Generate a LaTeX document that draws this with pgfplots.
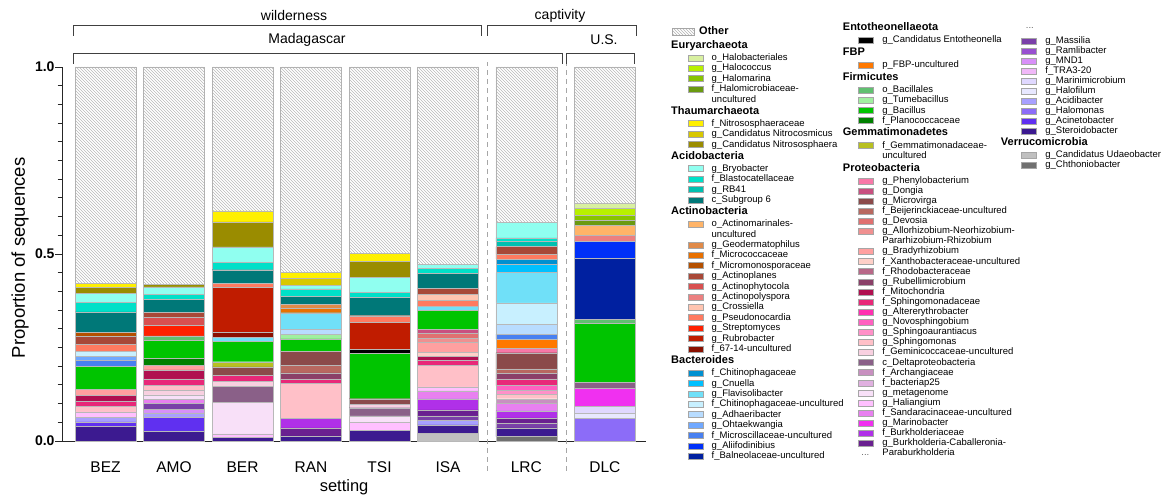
\documentclass[border=0pt]{standalone}
\usepackage{pgfplots}
\pgfplotsset{compat=1.18}
\usepackage{fontspec}
\setmainfont{Liberation Sans}
\usetikzlibrary{patterns}

% ---- taxon colours ----
\definecolor{kHalobact}{HTML}{D8F0A0}
\definecolor{kHalococ}{HTML}{B8F000}
\definecolor{kHalomar}{HTML}{88C400}
\definecolor{kHalomic}{HTML}{6A9A10}
\definecolor{kNitrosp}{HTML}{FFF000}
\definecolor{kNitroco}{HTML}{D8C800}
\definecolor{kNitrosa}{HTML}{9A8C00}
\definecolor{kBryo}{HTML}{90FFF0}
\definecolor{kBlasto}{HTML}{00E0C8}
\definecolor{kRB}{HTML}{00C0B0}
\definecolor{kSub}{HTML}{007878}
\definecolor{kActmar}{HTML}{FFB468}
\definecolor{kGeoder}{HTML}{E08A48}
\definecolor{kMicroc}{HTML}{E87000}
\definecolor{kMicrom}{HTML}{B45000}
\definecolor{kActpla}{HTML}{A84838}
\definecolor{kActphy}{HTML}{D85050}
\definecolor{kActpol}{HTML}{EC8080}
\definecolor{kCross}{HTML}{FFC4B0}
\definecolor{kPseudo}{HTML}{FF7A60}
\definecolor{kStrep}{HTML}{FF2000}
\definecolor{kRubro}{HTML}{C01C00}
\definecolor{kSixty}{HTML}{8A1000}
\definecolor{kChitin}{HTML}{0090D0}
\definecolor{kCnu}{HTML}{00C0FF}
\definecolor{kFlavi}{HTML}{70E0F8}
\definecolor{kChitu}{HTML}{C8F0FF}
\definecolor{kAdhae}{HTML}{B8DCFF}
\definecolor{kOhtae}{HTML}{70A8FF}
\definecolor{kMicros}{HTML}{4880F0}
\definecolor{kAlii}{HTML}{0030F8}
\definecolor{kBalne}{HTML}{0020A0}
\definecolor{kEnto}{HTML}{000000}
\definecolor{kFBP}{HTML}{FF7800}
\definecolor{kBacl}{HTML}{60C070}
\definecolor{kTume}{HTML}{A0F0A0}
\definecolor{kBacil}{HTML}{00C400}
\definecolor{kPlano}{HTML}{008000}
\definecolor{kGemma}{HTML}{B8C020}
\definecolor{kPhenyl}{HTML}{F878A8}
\definecolor{kDongia}{HTML}{C85080}
\definecolor{kMicrov}{HTML}{8B4A4A}
\definecolor{kBeij}{HTML}{B86860}
\definecolor{kDevosia}{HTML}{E07070}
\definecolor{kAllorh}{HTML}{F09090}
\definecolor{kBrady}{HTML}{FFA0A0}
\definecolor{kXantho}{HTML}{FFD0C8}
\definecolor{kRhodo}{HTML}{B86888}
\definecolor{kRubell}{HTML}{8A4068}
\definecolor{kMito}{HTML}{B01050}
\definecolor{kSphnd}{HTML}{E82878}
\definecolor{kAlter}{HTML}{FF30B0}
\definecolor{kNovos}{HTML}{FF60C0}
\definecolor{kSphau}{HTML}{FF90C8}
\definecolor{kSphms}{HTML}{FFC0C8}
\definecolor{kGemini}{HTML}{F8D0E0}
\definecolor{kDelta}{HTML}{8A6088}
\definecolor{kArchan}{HTML}{C890C0}
\definecolor{kBactp}{HTML}{E0B0E0}
\definecolor{kMetag}{HTML}{F8E0F8}
\definecolor{kHaliang}{HTML}{FFC0FF}
\definecolor{kSandar}{HTML}{E880F0}
\definecolor{kMarinob}{HTML}{F030F0}
\definecolor{kBurkh}{HTML}{B030E8}
\definecolor{kBurkCab}{HTML}{6A2090}
\definecolor{kMassil}{HTML}{7A40A8}
\definecolor{kRamli}{HTML}{9850D0}
\definecolor{kMND}{HTML}{D890F8}
\definecolor{kTRA}{HTML}{F0B8F8}
\definecolor{kMarinim}{HTML}{E0D8FF}
\definecolor{kHalofil}{HTML}{E8E8FF}
\definecolor{kAcidib}{HTML}{A8A0FF}
\definecolor{kHalomon}{HTML}{8C6CF8}
\definecolor{kAcinet}{HTML}{6030F0}
\definecolor{kStero}{HTML}{3C1A90}
\definecolor{kUdaeo}{HTML}{C0C0C0}
\definecolor{kChthon}{HTML}{707070}

% ---- legend helpers ----
\def\legT{7.8pt}\def\legD{2.6pt}\def\legTh{9.9pt}\def\legDh{3.9pt}
\newcommand\ent[1]{\rule[-\legD]{0pt}{\dimexpr\legT+\legD\relax}#1}
\newcommand\hdr[2]{\rule[-\legDh]{0pt}{\dimexpr\legTh+\legDh\relax}\rlap{\hspace*{-#1}\fontsize{11}{12}\selectfont\bfseries #2}}
\newcommand\sw[2]{\addlegendimage{fill=#1}\addlegendentry{\ent{#2}}}
\newcommand\hd[2]{\addlegendimage{empty legend}\addlegendentry{\hdr{#1}{#2}}}
\newcommand\ct[1]{\addlegendimage{empty legend}\addlegendentry{\ent{#1}}}

\pgfplotsset{
  seg/.style={fill=#1, draw=black!28, line width=0.4pt},
  legbox/.style={
    hide axis, scale only axis, width=10pt, height=10pt,
    xmin=0, xmax=1, ymin=0, ymax=1, anchor=north west,
    legend cell align=left,
    legend style={draw=none, fill=none, inner sep=0pt, outer sep=0pt,
      at={(0,1)}, anchor=north west, row sep=0pt, column sep=#1,
      font=\fontsize{9.5}{10}\selectfont, nodes={inner sep=0pt, text depth=}},
    legend image code/.code={\draw[##1, draw=black!35, line width=0.4pt] (0pt,-3pt) rectangle (15pt,3pt);},
  },
}

\begin{document}
\begin{tikzpicture}[x=1pt,y=1pt]
\useasboundingbox (0,0) rectangle (1166,495);

\begin{axis}[
  at={(62pt,54pt)}, anchor=south west,
  scale only axis, width=584pt, height=374pt,
  xmin=-0.635, xmax=7.89, ymin=0, ymax=1,
  ybar stacked, bar width=0.89,
  axis lines*=left,
  axis line style={black!85, line width=0.9pt},
  clip=false,
  xtick={0,1,2,3,4,5,6.143,7.289},
  xticklabels={BEZ,AMO,BER,RAN,TSI,ISA,LRC,DLC},
  major x tick style={draw=none},
  xticklabel style={font=\fontsize{15.5}{16}\selectfont, yshift=-10pt},
  ytick={0,0.5,1}, yticklabels={0.0,0.5,1.0},
  minor ytick={0.05,0.1,0.15,0.2,0.25,0.3,0.35,0.4,0.45,0.55,0.6,0.65,0.7,0.75,0.8,0.85,0.9,0.95},
  tick align=outside,
  major tick length=7pt, minor tick length=4.5pt,
  y tick style={black!85, line width=0.9pt},
  yticklabel style={font=\fontsize{14}{14}\selectfont\bfseries, xshift=3pt},
  xlabel={setting}, ylabel={Proportion of sequences},
  every axis x label/.style={at={(axis description cs:0.483,-0.123)}, anchor=center, font=\fontsize{16.5}{17}\selectfont},
  every axis y label/.style={at={(axis description cs:-0.0719,0.49)}, anchor=center, rotate=90, font=\fontsize{18.5}{19}\selectfont},
]
% stacked from the bottom: BEZ, AMO, BER, RAN, TSI, ISA, LRC, DLC
\addplot[seg=kChthon]  coordinates {(0,0)(1,0)(2,0)(3,0)(4,0)(5,0)(6.143,0.012)(7.289,0)};
\addplot[seg=kUdaeo]   coordinates {(0,0)(1,0)(2,0)(3,0)(4,0)(5,0.021)(6.143,0)(7.289,0)};
\addplot[seg=kStero]   coordinates {(0,0.039)(1,0.026)(2,0.009)(3,0.014)(4,0.029)(5,0.022)(6.143,0.023)(7.289,0)};
\addplot[seg=kAcinet]  coordinates {(0,0.012)(1,0.037)(2,0)(3,0)(4,0)(5,0)(6.143,0)(7.289,0)};
\addplot[seg=kHalomon] coordinates {(0,0)(1,0)(2,0)(3,0)(4,0)(5,0)(6.143,0)(7.289,0.062)};
\addplot[seg=kAcidib]  coordinates {(0,0.013)(1,0.012)(2,0)(3,0)(4,0)(5,0.013)(6.143,0)(7.289,0)};
\addplot[seg=kHalofil] coordinates {(0,0)(1,0)(2,0)(3,0)(4,0)(5,0)(6.143,0)(7.289,0.012)};
\addplot[seg=kMarinim] coordinates {(0,0)(1,0)(2,0)(3,0)(4,0)(5,0)(6.143,0)(7.289,0.018)};
\addplot[seg=kTRA]     coordinates {(0,0)(1,0)(2,0)(3,0)(4,0)(5,0)(6.143,0)(7.289,0)};
\addplot[seg=kMND]     coordinates {(0,0)(1,0.010)(2,0)(3,0)(4,0)(5,0)(6.143,0)(7.289,0)};
\addplot[seg=kRamli]   coordinates {(0,0)(1,0)(2,0)(3,0)(4,0)(5,0)(6.143,0)(7.289,0)};
\addplot[seg=kMassil]  coordinates {(0,0)(1,0.015)(2,0)(3,0)(4,0)(5,0.011)(6.143,0.013)(7.289,0)};
\addplot[seg=kBurkCab] coordinates {(0,0)(1,0)(2,0)(3,0.021)(4,0)(5,0.016)(6.143,0.014)(7.289,0)};
\addplot[seg=kBurkh]   coordinates {(0,0)(1,0)(2,0)(3,0.025)(4,0)(5,0.030)(6.143,0.019)(7.289,0)};
\addplot[seg=kMarinob] coordinates {(0,0)(1,0)(2,0)(3,0)(4,0)(5,0)(6.143,0)(7.289,0.049)};
\addplot[seg=kSandar]  coordinates {(0,0)(1,0.011)(2,0)(3,0)(4,0)(5,0.021)(6.143,0.020)(7.289,0)};
\addplot[seg=kHaliang] coordinates {(0,0.014)(1,0)(2,0.010)(3,0)(4,0.020)(5,0.011)(6.143,0)(7.289,0)};
\addplot[seg=kMetag]   coordinates {(0,0)(1,0.012)(2,0.085)(3,0)(4,0.018)(5,0)(6.143,0)(7.289,0)};
\addplot[seg=kBactp]   coordinates {(0,0)(1,0)(2,0)(3,0)(4,0)(5,0)(6.143,0)(7.289,0)};
\addplot[seg=kArchan]  coordinates {(0,0)(1,0)(2,0)(3,0)(4,0)(5,0)(6.143,0.012)(7.289,0)};
\addplot[seg=kDelta]   coordinates {(0,0)(1,0)(2,0.043)(3,0)(4,0.022)(5,0)(6.143,0)(7.289,0.015)};
\addplot[seg=kGemini]  coordinates {(0,0)(1,0.012)(2,0.013)(3,0)(4,0.009)(5,0)(6.143,0)(7.289,0)};
\addplot[seg=kSphms]   coordinates {(0,0.015)(1,0.013)(2,0)(3,0.094)(4,0)(5,0.058)(6.143,0.012)(7.289,0)};
\addplot[seg=kSphau]   coordinates {(0,0)(1,0)(2,0)(3,0)(4,0)(5,0)(6.143,0.011)(7.289,0)};
\addplot[seg=kNovos]   coordinates {(0,0)(1,0)(2,0)(3,0)(4,0)(5,0)(6.143,0.012)(7.289,0)};
\addplot[seg=kAlter]   coordinates {(0,0)(1,0)(2,0)(3,0)(4,0)(5,0)(6.143,0)(7.289,0)};
\addplot[seg=kSphnd]   coordinates {(0,0.013)(1,0.018)(2,0.015)(3,0.012)(4,0)(5,0.012)(6.143,0.018)(7.289,0)};
\addplot[seg=kMito]    coordinates {(0,0.016)(1,0.024)(2,0)(3,0)(4,0)(5,0.012)(6.143,0)(7.289,0)};
\addplot[seg=kRubell]  coordinates {(0,0)(1,0)(2,0)(3,0.016)(4,0)(5,0)(6.143,0.015)(7.289,0)};
\addplot[seg=kRhodo]   coordinates {(0,0)(1,0)(2,0)(3,0)(4,0)(5,0)(6.143,0)(7.289,0)};
\addplot[seg=kXantho]  coordinates {(0,0)(1,0)(2,0)(3,0)(4,0)(5,0.011)(6.143,0)(7.289,0)};
\addplot[seg=kBrady]   coordinates {(0,0.017)(1,0.013)(2,0)(3,0)(4,0)(5,0.025)(6.143,0)(7.289,0)};
\addplot[seg=kAllorh]  coordinates {(0,0)(1,0)(2,0)(3,0)(4,0)(5,0.012)(6.143,0)(7.289,0)};
\addplot[seg=kDevosia] coordinates {(0,0)(1,0)(2,0)(3,0)(4,0)(5,0.013)(6.143,0)(7.289,0)};
\addplot[seg=kBeij]    coordinates {(0,0)(1,0)(2,0)(3,0.020)(4,0)(5,0)(6.143,0.012)(7.289,0)};
\addplot[seg=kMicrov]  coordinates {(0,0)(1,0)(2,0.023)(3,0.038)(4,0.015)(5,0)(6.143,0.043)(7.289,0)};
\addplot[seg=kDongia]  coordinates {(0,0)(1,0)(2,0)(3,0)(4,0)(5,0.011)(6.143,0)(7.289,0)};
\addplot[seg=kPhenyl]  coordinates {(0,0)(1,0)(2,0)(3,0)(4,0)(5,0)(6.143,0.011)(7.289,0)};
\addplot[seg=kGemma]   coordinates {(0,0)(1,0)(2,0.014)(3,0)(4,0)(5,0)(6.143,0)(7.289,0)};
\addplot[seg=kPlano]   coordinates {(0,0)(1,0.018)(2,0)(3,0)(4,0)(5,0)(6.143,0)(7.289,0)};
\addplot[seg=kBacil]   coordinates {(0,0.061)(1,0.049)(2,0.054)(3,0.033)(4,0.121)(5,0.050)(6.143,0)(7.289,0.159)};
\addplot[seg=kTume]    coordinates {(0,0)(1,0)(2,0)(3,0.013)(4,0)(5,0)(6.143,0)(7.289,0)};
\addplot[seg=kBacl]    coordinates {(0,0)(1,0.011)(2,0)(3,0)(4,0)(5,0)(6.143,0)(7.289,0.011)};
\addplot[seg=kFBP]     coordinates {(0,0)(1,0)(2,0)(3,0)(4,0)(5,0)(6.143,0.025)(7.289,0)};
\addplot[seg=kEnto]    coordinates {(0,0)(1,0)(2,0)(3,0)(4,0.012)(5,0)(6.143,0)(7.289,0)};
\addplot[seg=kBalne]   coordinates {(0,0)(1,0)(2,0)(3,0)(4,0)(5,0)(6.143,0)(7.289,0.162)};
\addplot[seg=kAlii]    coordinates {(0,0)(1,0)(2,0)(3,0)(4,0)(5,0)(6.143,0)(7.289,0.045)};
\addplot[seg=kMicros]  coordinates {(0,0.015)(1,0)(2,0)(3,0)(4,0)(5,0)(6.143,0.014)(7.289,0)};
\addplot[seg=kOhtae]   coordinates {(0,0.012)(1,0)(2,0)(3,0)(4,0)(5,0)(6.143,0)(7.289,0)};
\addplot[seg=kAdhae]   coordinates {(0,0)(1,0)(2,0)(3,0.012)(4,0)(5,0)(6.143,0.025)(7.289,0)};
\addplot[seg=kChitu]   coordinates {(0,0.012)(1,0)(2,0)(3,0)(4,0)(5,0)(6.143,0.058)(7.289,0)};
\addplot[seg=kFlavi]   coordinates {(0,0)(1,0)(2,0.011)(3,0.045)(4,0)(5,0.011)(6.143,0.081)(7.289,0)};
\addplot[seg=kCnu]     coordinates {(0,0)(1,0)(2,0)(3,0)(4,0)(5,0)(6.143,0.023)(7.289,0)};
\addplot[seg=kChitin]  coordinates {(0,0)(1,0)(2,0)(3,0)(4,0)(5,0)(6.143,0.014)(7.289,0)};
\addplot[seg=kSixty]   coordinates {(0,0)(1,0)(2,0.015)(3,0)(4,0)(5,0)(6.143,0)(7.289,0)};
\addplot[seg=kRubro]   coordinates {(0,0)(1,0)(2,0.118)(3,0)(4,0.071)(5,0)(6.143,0)(7.289,0)};
\addplot[seg=kStrep]   coordinates {(0,0)(1,0.028)(2,0)(3,0)(4,0)(5,0)(6.143,0)(7.289,0)};
\addplot[seg=kPseudo]  coordinates {(0,0.020)(1,0)(2,0.012)(3,0)(4,0.018)(5,0.016)(6.143,0.012)(7.289,0)};
\addplot[seg=kCross]   coordinates {(0,0)(1,0)(2,0)(3,0)(4,0)(5,0.016)(6.143,0)(7.289,0)};
\addplot[seg=kActpol]  coordinates {(0,0)(1,0)(2,0)(3,0)(4,0)(5,0)(6.143,0)(7.289,0.018)};
\addplot[seg=kActphy]  coordinates {(0,0)(1,0.021)(2,0)(3,0)(4,0)(5,0)(6.143,0)(7.289,0)};
\addplot[seg=kActpla]  coordinates {(0,0.020)(1,0.014)(2,0)(3,0)(4,0)(5,0.016)(6.143,0.021)(7.289,0)};
\addplot[seg=kMicrom]  coordinates {(0,0.013)(1,0)(2,0)(3,0)(4,0)(5,0)(6.143,0)(7.289,0)};
\addplot[seg=kMicroc]  coordinates {(0,0)(1,0)(2,0)(3,0.012)(4,0)(5,0)(6.143,0)(7.289,0)};
\addplot[seg=kGeoder]  coordinates {(0,0)(1,0)(2,0)(3,0.010)(4,0)(5,0)(6.143,0)(7.289,0)};
\addplot[seg=kActmar]  coordinates {(0,0)(1,0)(2,0)(3,0)(4,0)(5,0)(6.143,0)(7.289,0.027)};
\addplot[seg=kSub]     coordinates {(0,0.053)(1,0.035)(2,0.036)(3,0.022)(4,0.049)(5,0.040)(6.143,0)(7.289,0)};
\addplot[seg=kRB]      coordinates {(0,0)(1,0)(2,0)(3,0)(4,0)(5,0)(6.143,0.013)(7.289,0)};
\addplot[seg=kBlasto]  coordinates {(0,0.025)(1,0.013)(2,0.019)(3,0.020)(4,0.013)(5,0.013)(6.143,0.010)(7.289,0)};
\addplot[seg=kBryo]    coordinates {(0,0.025)(1,0.020)(2,0.042)(3,0.009)(4,0.041)(5,0.012)(6.143,0.041)(7.289,0)};
\addplot[seg=kNitrosa] coordinates {(0,0.015)(1,0.007)(2,0.067)(3,0)(4,0.042)(5,0)(6.143,0)(7.289,0)};
\addplot[seg=kNitroco] coordinates {(0,0)(1,0)(2,0)(3,0.018)(4,0)(5,0)(6.143,0)(7.289,0)};
\addplot[seg=kNitrosp] coordinates {(0,0.011)(1,0)(2,0.029)(3,0.016)(4,0.022)(5,0)(6.143,0)(7.289,0)};
\addplot[seg=kHalomic] coordinates {(0,0)(1,0)(2,0)(3,0)(4,0)(5,0)(6.143,0)(7.289,0.012)};
\addplot[seg=kHalomar] coordinates {(0,0)(1,0)(2,0)(3,0)(4,0)(5,0)(6.143,0)(7.289,0.015)};
\addplot[seg=kHalococ] coordinates {(0,0)(1,0)(2,0)(3,0)(4,0)(5,0)(6.143,0)(7.289,0.018)};
\addplot[seg=kHalobact] coordinates {(0,0)(1,0)(2,0)(3,0)(4,0)(5,0)(6.143,0)(7.289,0.012)};
% remainder: Other
\addplot[pattern=north west lines, pattern color=black!28, draw=black!30, line width=0.4pt]
  coordinates {(0,0.579)(1,0.581)(2,0.385)(3,0.550)(4,0.498)(5,0.527)(6.143,0.416)(7.289,0.365)};

% group separators
\draw[black!35, line width=0.9pt, dash pattern=on 5pt off 4pt] (axis cs:5.569,-0.08) -- (axis cs:5.569,1.013);
\draw[black!35, line width=0.9pt, dash pattern=on 5pt off 4pt] (axis cs:6.723,-0.08) -- (axis cs:6.723,1.013);
\end{axis}

% group brackets
\begin{scope}[black!75, line width=0.9pt]
\draw (73.6,459) -- (73.6,470) -- (481,470) -- (481,459);
\draw (487,459) -- (487,470) -- (636,470) -- (636,459);
\draw (73.6,431) -- (73.6,441.4) -- (562,441.4) -- (562,431);
\draw (566,431) -- (566,441.4) -- (634,441.4) -- (634,431);
\end{scope}
\begin{scope}[every node/.style={font=\fontsize{14}{14}\selectfont, inner sep=0pt}]
\node at (294,479) {wilderness};
\node at (560,479) {captivity};
\node at (307,455) {Madagascar};
\node at (604,455) {U.S.};
\end{scope}

% legend, first column
\begin{axis}[legbox=8.3pt, at={(688pt,470pt)}]
\addlegendimage{legend image code/.code={\draw[overlay, pattern=north west lines, pattern color=black!30, draw=black!35] (-16pt,-3.5pt) rectangle (6pt,3.5pt);}}
\addlegendentry{\hdr{13pt}{Other}}
\hd{41pt}{Euryarchaeota}
\sw{kHalobact}{o\_Halobacteriales}
\sw{kHalococ}{g\_Halococcus}
\sw{kHalomar}{g\_Halomarina}
\sw{kHalomic}{f\_Halomicrobiaceae-}
\ct{uncultured}
\hd{41pt}{Thaumarchaeota}
\sw{kNitrosp}{f\_Nitrososphaeraceae}
\sw{kNitroco}{g\_Candidatus Nitrocosmicus}
\sw{kNitrosa}{g\_Candidatus Nitrososphaera}
\hd{41pt}{Acidobacteria}
\sw{kBryo}{g\_Bryobacter}
\sw{kBlasto}{f\_Blastocatellaceae}
\sw{kRB}{g\_RB41}
\sw{kSub}{c\_Subgroup 6}
\hd{41pt}{Actinobacteria}
\sw{kActmar}{o\_Actinomarinales-}
\ct{uncultured}
\sw{kGeoder}{g\_Geodermatophilus}
\sw{kMicroc}{f\_Micrococcaceae}
\sw{kMicrom}{f\_Micromonosporaceae}
\sw{kActpla}{g\_Actinoplanes}
\sw{kActphy}{g\_Actinophytocola}
\sw{kActpol}{g\_Actinopolyspora}
\sw{kCross}{g\_Crossiella}
\sw{kPseudo}{g\_Pseudonocardia}
\sw{kStrep}{g\_Streptomyces}
\sw{kRubro}{g\_Rubrobacter}
\sw{kSixty}{f\_67-14-uncultured}
\hd{41pt}{Bacteroides}
\sw{kChitin}{f\_Chitinophagaceae}
\sw{kCnu}{g\_Cnuella}
\sw{kFlavi}{g\_Flavisolibacter}
\sw{kChitu}{f\_Chitinophagaceae-uncultured}
\sw{kAdhae}{g\_Adhaeribacter}
\sw{kOhtae}{g\_Ohtaekwangia}
\sw{kMicros}{f\_Microscillaceae-uncultured}
\sw{kAlii}{g\_Aliifodinibius}
\sw{kBalne}{f\_Balneolaceae-uncultured}
\end{axis}

% legend, second column
\def\legT{7.55pt}\def\legD{2.55pt}\def\legTh{10.25pt}\def\legDh{4.65pt}
\begin{axis}[legbox=9pt, at={(858pt,474.6pt)}]
\hd{40pt}{Entotheonellaeota}
\sw{kEnto}{g\_Candidatus Entotheonella}
\hd{40pt}{FBP}
\sw{kFBP}{p\_FBP-uncultured}
\hd{40pt}{Firmicutes}
\sw{kBacl}{o\_Bacillales}
\sw{kTume}{g\_Tumebacillus}
\sw{kBacil}{g\_Bacillus}
\sw{kPlano}{f\_Planococcaceae}
\hd{40pt}{Gemmatimonadetes}
\sw{kGemma}{f\_Gemmatimonadaceae-}
\ct{uncultured}
\hd{40pt}{Proteobacteria}
\sw{kPhenyl}{g\_Phenylobacterium}
\sw{kDongia}{g\_Dongia}
\sw{kMicrov}{g\_Microvirga}
\sw{kBeij}{f\_Beijerinckiaceae-uncultured}
\sw{kDevosia}{g\_Devosia}
\sw{kAllorh}{g\_Allorhizobium-Neorhizobium-}
\ct{Pararhizobium-Rhizobium}
\sw{kBrady}{g\_Bradyrhizobium}
\sw{kXantho}{f\_Xanthobacteraceae-uncultured}
\sw{kRhodo}{f\_Rhodobacteraceae}
\sw{kRubell}{g\_Rubellimicrobium}
\sw{kMito}{f\_Mitochondria}
\sw{kSphnd}{f\_Sphingomonadaceae}
\sw{kAlter}{g\_Altererythrobacter}
\sw{kNovos}{g\_Novosphingobium}
\sw{kSphau}{g\_Sphingoaurantiacus}
\sw{kSphms}{g\_Sphingomonas}
\sw{kGemini}{f\_Geminicoccaceae-uncultured}
\sw{kDelta}{c\_Deltaproteobacteria}
\sw{kArchan}{f\_Archangiaceae}
\sw{kBactp}{f\_bacteriap25}
\sw{kMetag}{g\_metagenome}
\sw{kHaliang}{g\_Haliangium}
\sw{kSandar}{f\_Sandaracinaceae-uncultured}
\sw{kMarinob}{g\_Marinobacter}
\sw{kBurkh}{f\_Burkholderiaceae}
\sw{kBurkCab}{g\_Burkholderia-Caballeronia-}
\ct{\rlap{\hspace*{-21pt}\textcolor{black!60}{...}}Paraburkholderia}
\end{axis}

% legend, third column
\def\legT{7.5pt}\def\legD{2.5pt}\def\legTh{9.5pt}\def\legDh{4.5pt}
\begin{axis}[legbox=9pt, at={(1021pt,474pt)}]
\addlegendimage{empty legend}
\addlegendentry{\rule[-7.5pt]{0pt}{15pt}\rlap{\hspace*{-20pt}\textcolor{black!60}{...}}}
\sw{kMassil}{g\_Massilia}
\sw{kRamli}{g\_Ramlibacter}
\sw{kMND}{g\_MND1}
\sw{kTRA}{f\_TRA3-20}
\sw{kMarinim}{g\_Marinimicrobium}
\sw{kHalofil}{g\_Halofilum}
\sw{kAcidib}{g\_Acidibacter}
\sw{kHalomon}{g\_Halomonas}
\sw{kAcinet}{g\_Acinetobacter}
\sw{kStero}{g\_Steroidobacter}
\hd{45pt}{Verrucomicrobia}
\sw{kUdaeo}{g\_Candidatus Udaeobacter}
\sw{kChthon}{g\_Chthoniobacter}
\end{axis}
\end{tikzpicture}
\end{document}
